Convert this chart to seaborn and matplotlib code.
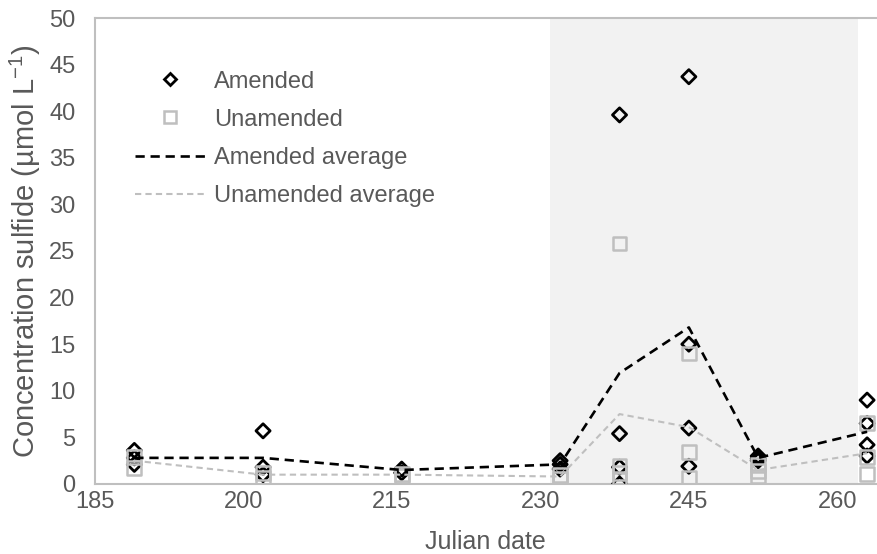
import matplotlib
matplotlib.use("Agg")
import matplotlib.pyplot as plt
import seaborn as sns
import pandas as pd
from matplotlib.lines import Line2D

# ---- data ----
amended_dates = [189, 189, 189, 202, 202, 202, 216, 216, 232, 232, 232,
                 238, 238, 238, 238, 245, 245, 245, 245, 252, 252, 252,
                 263, 263, 263, 263]
amended_vals = [3.6, 2.8, 2.1, 5.7, 1.8, 1.0, 1.6, 1.2, 2.5, 2.1, 1.6,
                39.6, 5.4, 1.8, 0.0, 43.7, 15.0, 6.0, 1.9, 3.0, 2.7, 2.5,
                9.0, 6.5, 4.2, 3.0]

unamended_dates = [189, 189, 202, 202, 216, 216, 232, 232,
                   238, 238, 238, 238, 245, 245, 245, 252, 252, 252,
                   263, 263, 263]
unamended_vals = [2.9, 1.7, 1.2, 0.7, 1.1, 0.9, 1.0, 0.5,
                  25.8, 1.9, 1.2, 0.5, 14.0, 3.4, 0.6, 2.0, 1.4, 0.8,
                  6.5, 2.9, 1.1]

avg_dates = [189, 202, 216, 232, 238, 245, 252, 263]
amended_avg = [2.8, 2.8, 1.5, 2.1, 11.9, 16.8, 2.8, 5.6]
unamended_avg = [2.5, 1.0, 1.0, 0.8, 7.5, 6.1, 1.5, 3.3]

x_ticks = [185, 200, 215, 230, 245, 260]
y_ticks = [0, 5, 10, 15, 20, 25, 30, 35, 40, 45, 50]
shade_span = (231.0, 262.1)

# ---- styling ----
sns.set_style("white")
plt.rcParams["font.family"] = ["Liberation Sans", "DejaVu Sans"]
plt.rcParams["mathtext.fontset"] = "custom"
plt.rcParams["mathtext.rm"] = "Liberation Sans"

TXT = "#595959"
GRAY = "#BFBFBF"

fig = plt.figure(figsize=(8.77, 5.54), dpi=100)
ax = fig.add_axes([0.108, 0.1264, 0.892, 0.8411])

ax.axvspan(*shade_span, color="#F2F2F2", lw=0, zorder=0)

df_a = pd.DataFrame({"date": amended_dates, "val": amended_vals})
df_u = pd.DataFrame({"date": unamended_dates, "val": unamended_vals})
df_avg = pd.DataFrame({"date": avg_dates, "a": amended_avg, "u": unamended_avg})

sns.scatterplot(data=df_a, x="date", y="val", ax=ax, marker="D", s=52,
                facecolor="none", edgecolor="black", linewidth=2.0, zorder=3)
sns.scatterplot(data=df_u, x="date", y="val", ax=ax, marker="s", s=100,
                facecolor="none", edgecolor=GRAY, linewidth=1.8, zorder=4)
sns.lineplot(data=df_avg, x="date", y="a", ax=ax, color="black", lw=1.9,
             zorder=5, linestyle=(0, (3.5, 2.2)))
sns.lineplot(data=df_avg, x="date", y="u", ax=ax, color=GRAY, lw=1.5,
             zorder=6, linestyle=(0, (3, 2)))

ax.set_xlim(185, 264)
ax.set_ylim(0, 50)
ax.set_xticks(x_ticks)
ax.set_yticks(y_ticks)
ax.tick_params(axis="both", length=0, labelsize=17, colors=TXT)
ax.tick_params(axis="y", pad=14)
ax.tick_params(axis="x", pad=5)

ax.set_xlabel("Julian date", fontsize=18, color=TXT, labelpad=12)
ax.set_ylabel("Concentration sulfide (µmol L$^{\\mathregular{-1}}$)",
              fontsize=21, color=TXT, labelpad=4)

for side in ["left", "bottom", "top"]:
    ax.spines[side].set_color(GRAY)
    ax.spines[side].set_linewidth(1.5)
ax.spines["right"].set_visible(False)

handles = [
    Line2D([], [], marker="D", ls="none", mfc="none", mec="black", mew=2.0, ms=6.5),
    Line2D([], [], marker="s", ls="none", mfc="none", mec=GRAY, mew=1.8, ms=9),
    Line2D([], [], color="black", lw=1.9, linestyle=(0, (3.5, 2.2))),
    Line2D([], [], color=GRAY, lw=1.5, linestyle=(0, (3, 2))),
]
labels = ["Amended", "Unamended", "Amended average", "Unamended average"]
leg = ax.legend(handles, labels, loc="upper left", bbox_to_anchor=(0.051, 0.887),
                borderpad=0, borderaxespad=0, frameon=False, fontsize=17,
                handlelength=3.0, handletextpad=0.35,
                labelspacing=0.68, labelcolor=TXT)

fig.savefig("out.png", dpi=100)
